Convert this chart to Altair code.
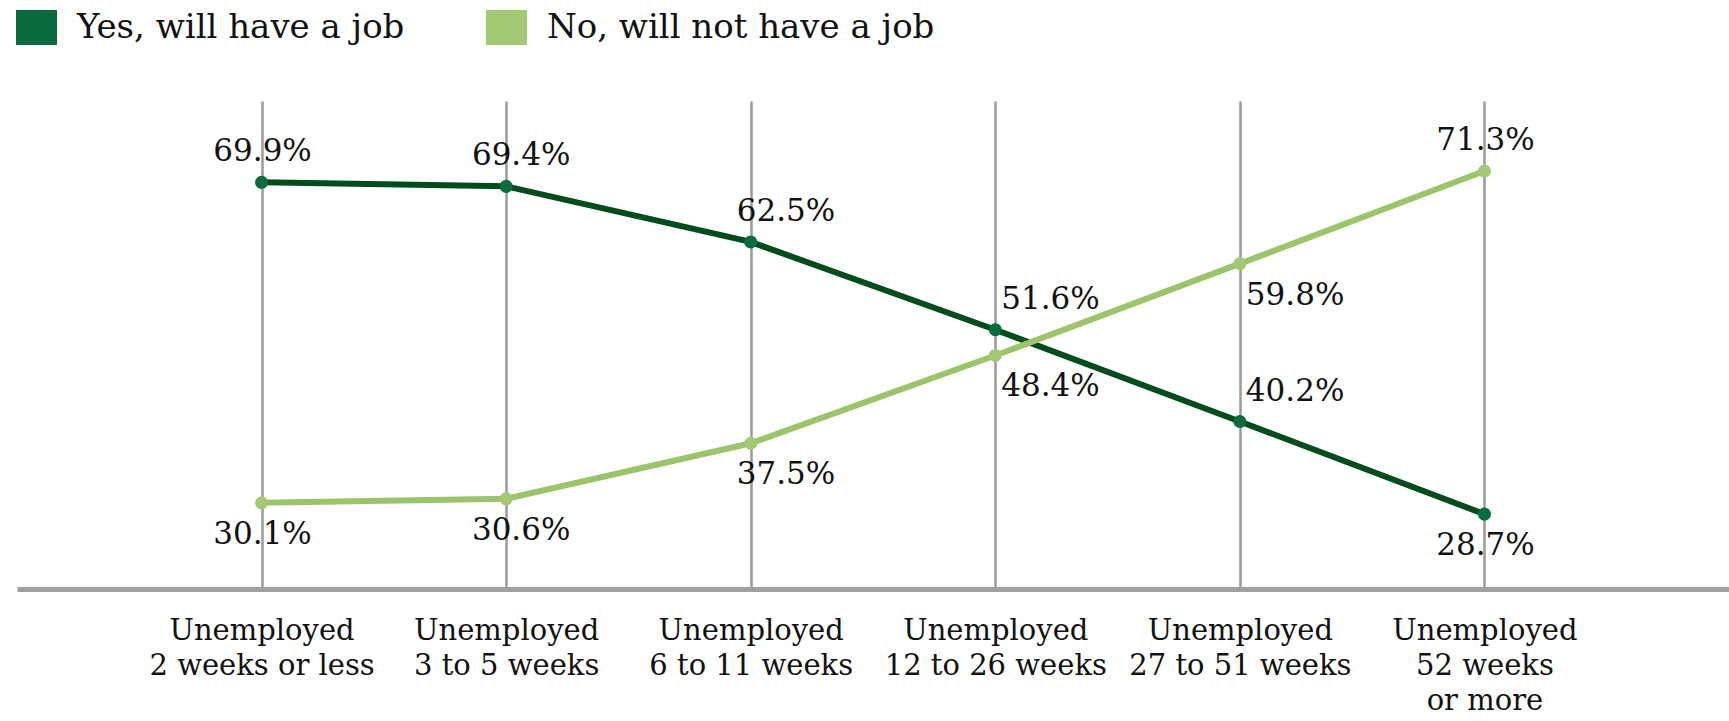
import altair as alt
import pandas as pd

categories = [
    "Unemployed|2 weeks or less",
    "Unemployed|3 to 5 weeks",
    "Unemployed|6 to 11 weeks",
    "Unemployed|12 to 26 weeks",
    "Unemployed|27 to 51 weeks",
    "Unemployed|52 weeks|or more",
]
series_names = ["Yes, will have a job", "No, will not have a job"]
yes_values = [69.9, 69.4, 62.5, 51.6, 40.2, 28.7]
no_values = [30.1, 30.6, 37.5, 48.4, 59.8, 71.3]
line_colors = ["#004c1c", "#9cc46a"]
fill_colors = ["#0a6b3d", "#a4c975"]

rows = []
for i, c in enumerate(categories):
    rows.append(dict(cat=c, idx=i, series=series_names[0], value=yes_values[i]))
    rows.append(dict(cat=c, idx=i, series=series_names[1], value=no_values[i]))
df = pd.DataFrame(rows)
df["label"] = df["value"].map(lambda v: f"{v:.1f}%")

FONT = "DejaVu Serif"

x = alt.X(
    "cat:N",
    sort=categories,
    scale=alt.Scale(type="point", padding=1),
    axis=alt.Axis(
        title=None,
        labelExpr="split(datum.value, '|')",
        labelAngle=0,
        ticks=False,
        grid=True,
        gridColor="#9a9a9a",
        gridWidth=2.5,
        domainColor="#a0a0a0",
        domainWidth=5,
        labelFont=FONT,
        labelFontSize=29,
        labelColor="#111111",
        labelPadding=27,
        labelLineHeight=35,
        labelBaseline="top",
        labelLimit=1000,
    ),
)
y = alt.Y("value:Q", scale=alt.Scale(domain=[19.4, 80], nice=False, zero=False), axis=None)

base = alt.Chart(df)

# stroke scale uses a data-driven (sorted) domain so its legend is not merged with the color legend
lines = base.mark_line(strokeWidth=6).encode(
    x=x,
    y=y,
    stroke=alt.Stroke("series:N", sort=series_names, scale=alt.Scale(range=line_colors), legend=None),
)

points = base.mark_point(filled=True, size=170, opacity=1).encode(
    x=x,
    y=y,
    color=alt.Color(
        "series:N",
        scale=alt.Scale(domain=series_names, range=fill_colors),
        legend=alt.Legend(
            title=None,
            orient="none",
            legendX=-1,
            legendY=-94,
            direction="horizontal",
            symbolType="M-1,-0.85H1V0.85H-1Z",
            symbolSize=1681,
            symbolStrokeWidth=0,
            symbolOpacity=1,
            labelFont=FONT,
            labelFontSize=34,
            labelColor="#111111",
            labelOffset=20,
            columnPadding=81,
            padding=0,
            labelLimit=1000,
        ),
    ),
)

above_expr = (
    f"(datum.series == '{series_names[0]}' && datum.idx < 5) || "
    f"(datum.series == '{series_names[1]}' && datum.idx == 5)"
)
groups = [([0, 5], "center", 1), ([1], "center", 15), ([2], "left", -14), ([3, 4], "left", 6)]

texts = []
for idxs, align, dx in groups:
    for above in (True, False):
        expr = above_expr if above else f"!({above_expr})"
        t = (
            base.mark_text(
                align=align,
                dx=dx,
                dy=-21 if above else 41,
                baseline="alphabetic",
                font=FONT,
                fontSize=31,
                color="#111111",
            )
            .encode(x=x, y=y, text="label:N")
            .transform_filter(alt.FieldOneOfPredicate(field="idx", oneOf=idxs))
            .transform_filter(expr)
        )
        texts.append(t)

chart = (
    alt.layer(lines, points, *texts)
    .properties(
        width=1712,
        height=488,
        padding={"left": 17, "top": 101, "right": 0, "bottom": 132},
        autosize=alt.AutoSizeParams(type="none"),
        background="white",
    )
    .configure_view(stroke=None)
)

chart.save("out.html", embed_options={"renderer": "svg", "actions": False})
